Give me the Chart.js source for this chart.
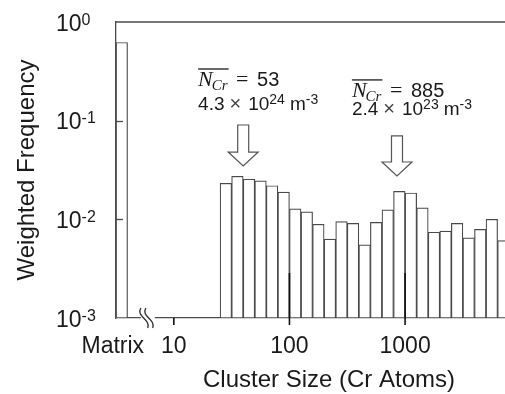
<!DOCTYPE html>
<html>
<head>
<meta charset="utf-8">
<script src="https://cdn.jsdelivr.net/npm/chart.js@4.4.0/dist/chart.umd.min.js"></script>
<style>
  html, body { margin: 0; padding: 0; background: #fff; }
  #wrap { width: 505px; height: 394px; position: relative; }
</style>
</head>
<body>
<div id="wrap"><canvas id="cluster-graph"></canvas></div>
<script>
// x positions are log10(cluster size); the matrix bin sits left of the axis break
const matrixLabel = 'Matrix';
const matrixPos = 0.55;
const matrixValue = 0.62;

const binCentersLog = [1.45, 1.55, 1.65, 1.75, 1.85, 1.95, 2.05, 2.15, 2.25, 2.35,
  2.45, 2.55, 2.65, 2.75, 2.85, 2.95, 3.05, 3.15, 3.25, 3.35,
  3.45, 3.55, 3.65, 3.75, 3.85];
const binValues = [0.0232, 0.0273, 0.0255, 0.0245, 0.0219, 0.0189, 0.0128, 0.0119, 0.0089, 0.0063,
  0.0095, 0.0091, 0.0055, 0.0093, 0.0125, 0.0192, 0.0185, 0.0131, 0.0074, 0.0076,
  0.0091, 0.0065, 0.0079, 0.0100, 0.0061];

const xTickPos = [1, 2, 3];
const xTickLabels = ['10', '100', '1000'];
const yTickValues = [0.001, 0.01, 0.1, 1];
const yTickExps = ['-3', '-2', '-1', '0'];

const xTitle = 'Cluster Size (Cr Atoms)';
const yTitle = 'Weighted Frequency';

// mean cluster size annotations (log x, y value of text baselines / arrow)
const annotations = [
  { x: 1.21, y1: 0.2246, y2: 0.128, n: '53', mant: '4.3', exp: '24',
    arrowX: 1.6, arrowTop: 0.0904, arrowHead: 0.0481, arrowTip: 0.0347 },
  { x: 2.54, y1: 0.174, y2: 0.114, n: '885', mant: '2.4', exp: '23',
    arrowX: 2.93, arrowTop: 0.070, arrowHead: 0.0381, arrowTip: 0.0275 }
];

const SANS = "'Liberation Sans', Arial, sans-serif";
const SERIF = "'Liberation Serif', 'Times New Roman', serif";

const points = [{ x: matrixPos, y: matrixValue }];
binCentersLog.forEach((c, i) => points.push({ x: c, y: binValues[i] }));

function line(ctx, x1, y1, x2, y2) {
  ctx.beginPath(); ctx.moveTo(x1, y1); ctx.lineTo(x2, y2); ctx.stroke();
}

// draws base text plus raised smaller text, returns end x
function textWithSup(ctx, x, y, base, sup, size, supSize, raise) {
  ctx.font = size + 'px ' + SANS;
  ctx.fillText(base, x, y);
  x += ctx.measureText(base).width;
  ctx.font = supSize + 'px ' + SANS;
  ctx.fillText(sup, x, y - raise);
  return x + ctx.measureText(sup).width;
}

const decoPlugin = {
  id: 'deco',
  afterDraw(chart) {
    const ctx = chart.ctx;
    const xs = chart.scales.x;
    const ys = chart.scales.y;
    const area = chart.chartArea;
    ctx.save();

    // top frame line
    ctx.strokeStyle = '#4a4a4a';
    ctx.lineWidth = 1.3;
    line(ctx, area.left, area.top, area.right, area.top);

    // inner ticks on y axis
    [0.1, 0.01].forEach(v => {
      const py = Math.round(ys.getPixelForValue(v)) + 0.5;
      line(ctx, area.left, py, area.left + 7, py);
    });

    // x ticks (100 and 1000 have a long inner part)
    ctx.strokeStyle = '#111';
    ctx.lineWidth = 1.6;
    xTickPos.forEach(v => {
      const px = xs.getPixelForValue(v);
      const up = v >= 2 ? 45 : 0;
      line(ctx, px, area.bottom - up, px, area.bottom + 7);
    });

    // axis break
    const bx = xs.getPixelForValue(0.775);
    ctx.fillStyle = '#fff';
    ctx.fillRect(bx - 7, area.bottom - 3, 14, 6);
    ctx.strokeStyle = '#333';
    ctx.lineWidth = 1.4;
    [-3, 2].forEach(d => {
      ctx.beginPath();
      ctx.moveTo(bx + d - 4, area.bottom - 10);
      ctx.bezierCurveTo(bx + d - 9, area.bottom - 1, bx + d + 6, area.bottom + 1, bx + d + 3, area.bottom + 10);
      ctx.stroke();
    });

    ctx.fillStyle = '#1a1a1a';
    ctx.textBaseline = 'alphabetic';

    // y tick labels 10^n
    ctx.textAlign = 'left';
    yTickValues.forEach((v, i) => {
      const py = ys.getPixelForValue(v);
      textWithSup(ctx, 56, py + 8.5, '10', yTickExps[i], 23, 16, 6);
    });

    // x tick labels
    ctx.font = '23px ' + SANS;
    ctx.textAlign = 'center';
    ctx.fillText(matrixLabel, xs.getPixelForValue(matrixPos) - 9, area.bottom + 35);
    xTickPos.forEach((v, i) => {
      ctx.fillText(xTickLabels[i], xs.getPixelForValue(v), area.bottom + 35);
    });

    // axis titles
    ctx.font = '24px ' + SANS;
    ctx.fillText(xTitle, 329, area.bottom + 69);
    ctx.save();
    ctx.translate(33.5, (area.top + area.bottom) / 2);
    ctx.rotate(-Math.PI / 2);
    ctx.fillText(yTitle, 0, 0);
    ctx.restore();

    // annotations
    annotations.forEach(a => {
      const x0 = xs.getPixelForValue(a.x);
      const b1 = ys.getPixelForValue(a.y1);
      const b2 = ys.getPixelForValue(a.y2);
      ctx.textAlign = 'left';
      ctx.font = 'italic 22px ' + SERIF;
      ctx.fillText('N', x0, b1);
      const nw = ctx.measureText('N').width;
      ctx.font = 'italic 15px ' + SERIF;
      ctx.fillText('Cr', x0 + nw - 1, b1 + 4);
      const cw = ctx.measureText('Cr').width;
      ctx.strokeStyle = '#1a1a1a';
      ctx.lineWidth = 1.3;
      line(ctx, x0, b1 - 17, x0 + nw + cw, b1 - 17);
      ctx.font = '22px ' + SERIF;
      ctx.fillText('=', x0 + 38, b1);
      ctx.font = '20px ' + SANS;
      ctx.fillText(a.n, x0 + 59, b1);

      let x = x0;
      ctx.font = '19px ' + SANS;
      ctx.fillText(a.mant, x, b2);
      x += ctx.measureText(a.mant).width + 5;
      ctx.font = '20px ' + SANS;
      ctx.fillStyle = '#444';
      ctx.fillText('\u00d7', x, b2);
      ctx.fillStyle = '#1a1a1a';
      x += ctx.measureText('\u00d7').width + 7;
      x = textWithSup(ctx, x, b2, '10', a.exp, 19, 14, 6);
      x += 5;
      textWithSup(ctx, x, b2, 'm', '-3', 19, 14, 6);

      // hollow down arrow
      const cx = xs.getPixelForValue(a.arrowX);
      const top = ys.getPixelForValue(a.arrowTop);
      const head = ys.getPixelForValue(a.arrowHead);
      const tip = ys.getPixelForValue(a.arrowTip);
      ctx.beginPath();
      ctx.moveTo(cx - 5.5, top);
      ctx.lineTo(cx + 5.5, top);
      ctx.lineTo(cx + 5.5, head);
      ctx.lineTo(cx + 15, head);
      ctx.lineTo(cx, tip);
      ctx.lineTo(cx - 15, head);
      ctx.lineTo(cx - 5.5, head);
      ctx.closePath();
      ctx.fillStyle = '#fff';
      ctx.fill();
      ctx.strokeStyle = '#555';
      ctx.lineWidth = 1.2;
      ctx.stroke();
      ctx.fillStyle = '#1a1a1a';
    });

    ctx.restore();
  }
};

const ctx = document.getElementById('cluster-graph').getContext('2d');
const chart = new Chart(ctx, {
  type: 'bar',
  data: {
    datasets: [{
      label: 'Weighted Frequency',
      data: points,
      backgroundColor: '#fff',
      borderColor: '#4a4a4a',
      borderWidth: 1.2,
      borderSkipped: false,
      barPercentage: 1,
      categoryPercentage: 1
    }]
  },
  options: {
    responsive: true,
    maintainAspectRatio: false,
    animation: false,
    layout: { padding: { top: 22, left: 0, right: 0, bottom: 0 } },
    plugins: {
      legend: { display: false },
      tooltip: { enabled: false }
    },
    scales: {
      x: {
        type: 'linear',
        min: 0.5,
        max: 3.864,
        offset: false,
        grid: { display: false },
        ticks: { display: false },
        border: { display: true, color: '#4a4a4a', width: 1.3 },
        afterFit(scale) { scale.height = 76; }
      },
      y: {
        type: 'logarithmic',
        min: 0.001,
        max: 1,
        grid: { display: false },
        ticks: { display: false },
        border: { display: true, color: '#4a4a4a', width: 1.3 },
        afterBuildTicks(scale) { scale.ticks = yTickValues.map(v => ({ value: v })); },
        afterFit(scale) { scale.width = 116; }
      }
    }
  },
  plugins: [decoPlugin]
});
</script>
</body>
</html>
